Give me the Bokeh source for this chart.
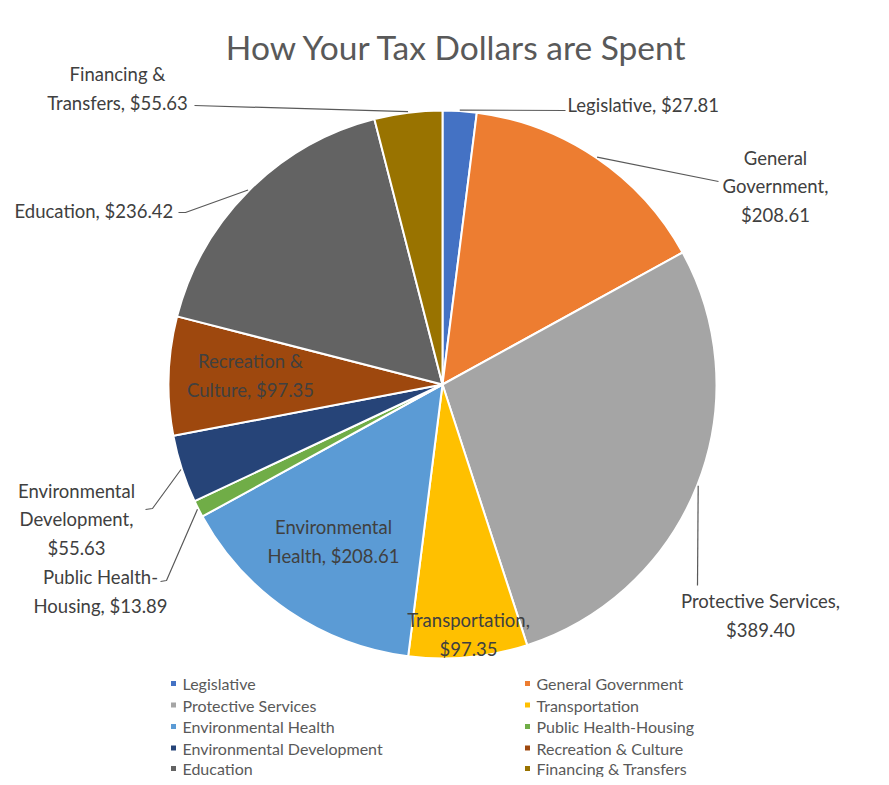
import numpy as np
from bokeh.plotting import figure
from bokeh.models import Range1d, ColumnDataSource
from bokeh.core.properties import value
from bokeh.embed import file_html
from bokeh.resources import INLINE

# ---- data ----
categories = ["Legislative", "General Government", "Protective Services", "Transportation",
              "Environmental Health", "Public Health-Housing", "Environmental Development",
              "Recreation & Culture", "Education", "Financing & Transfers"]
amounts = [27.81, 208.61, 389.40, 97.35, 208.61, 13.89, 55.63, 97.35, 236.42, 55.63]
colors = ["#4472C4", "#ED7D31", "#A5A5A5", "#FFC000", "#5B9BD5",
          "#70AD47", "#264478", "#9E480E", "#636363", "#997300"]
label_texts = ["Legislative, $27.81", "General\nGovernment,\n$208.61", "Protective Services,\n$389.40",
               "Transportation,\n$97.35", "Environmental\nHealth, $208.61", "Public Health-\nHousing, $13.89",
               "Environmental\nDevelopment,\n$55.63", "Recreation &\nCulture, $97.35",
               "Education, $236.42", "Financing &\nTransfers, $55.63"]
title_text = "How Your Tax Dollars are Spent"

W, H = 881, 777
def X(px):
    return px
def Y(py):
    return H - py

p = figure(width=W, height=H, x_range=Range1d(0, W), y_range=Range1d(0, H),
           output_backend="svg", toolbar_location=None, min_border=0)
p.axis.visible = False
p.grid.visible = False
p.outline_line_color = None
p.background_fill_color = "white"
p.border_fill_color = "white"

FONT = value("Lato")
TXT = "#404040"

# ---- pie ----
cx, cy, R = X(442), Y(384), 274
vals = np.array(amounts)
frac = vals / vals.sum()
cum = np.concatenate([[0], np.cumsum(frac)])
start = np.pi / 2 - cum[:-1] * 2 * np.pi
end = np.pi / 2 - cum[1:] * 2 * np.pi
mid = (start + end) / 2
src = ColumnDataSource(dict(start=start, end=end, color=colors, cat=categories))
p.wedge(x=cx, y=cy, radius=R, start_angle="start", end_angle="end", direction="clock",
        fill_color="color", line_color="white", line_width=2, source=src)

# ---- labels (layout positions in page px) ----
lab_x = [567, 775, 760, 468, 333, 100, 76, 250, 14, 117]
lab_y = [104, 186, 615, 634, 541, 591, 519, 375, 210, 88]
lab_align = ["left", "center", "center", "center", "center", "center", "center", "center", "left", "center"]
p.text(x=[X(v) for v in lab_x], y=[Y(v) for v in lab_y], text=label_texts,
       text_align=lab_align, text_baseline="middle", text_font=FONT, text_font_size="18.5px",
       text_color=TXT, text_line_height=1.28)

# ---- leader lines: from slice edge (at mid angle) to label anchor ----
leader_idx = [0, 1, 2, 5, 6, 8, 9]
anchor = {0: [(565, 110)], 1: [(718, 181)], 2: [(697, 585)],
          5: [(166, 580), (160, 581)], 6: [(152, 508), (145, 509)],
          8: [(185, 212), (178, 212)], 9: [(194, 105)]}
xs, ys = [], []
for i in leader_idx:
    ex = cx + (R + 1) * np.cos(mid[i])
    ey = cy + (R + 1) * np.sin(mid[i])
    lx = [ex] + [X(a) for a, b in anchor[i]]
    ly = [ey] + [Y(b) for a, b in anchor[i]]
    xs.append(lx)
    ys.append(ly)
p.multi_line(xs=xs, ys=ys, line_color="#595959", line_width=1.2)

# ---- title ----
p.text(x=[X(457)], y=[Y(46)], text=[title_text], text_align="center", text_baseline="middle",
       text_font=FONT, text_font_size="33.5px", text_color="#595959")

# ---- legend ----
col_x = [173, 527]
row_y = [683, 704.5, 726, 747.5, 768]
leg_x = [X(col_x[i % 2]) for i in range(len(categories))]
leg_y = [Y(row_y[i // 2]) for i in range(len(categories))]
p.scatter(x=leg_x, y=leg_y, marker="square", size=5, fill_color=colors, line_color=None)
p.text(x=[v + 9 for v in leg_x], y=leg_y, text=categories, text_align="left", text_baseline="middle",
       text_font=FONT, text_font_size="16px", text_color="#595959")

open("out.html", "w").write(file_html(p, INLINE))
